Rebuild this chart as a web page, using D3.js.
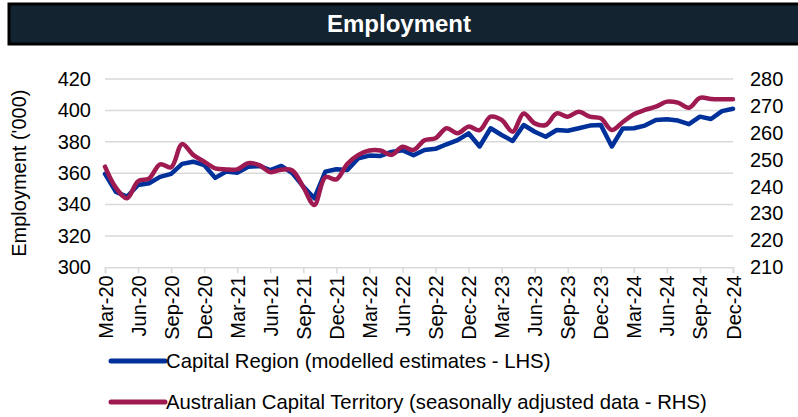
<!DOCTYPE html>
<html>
<head>
<meta charset="utf-8">
<script src="https://cdn.jsdelivr.net/npm/d3@7"></script>
<style>
    body { margin: 0; background: #fff; }
    svg text { font-family: "Liberation Sans", Arial, sans-serif; fill: #000; }
</style>
</head>
<body>
<div id="chart"></div>
<script>
// monthly, Mar-20 .. Dec-24
const months = d3.timeMonth.range(new Date(2020, 2, 1), new Date(2025, 0, 1));

// Capital Region (modelled estimates, '000) - left axis
const capitalRegion = [
    359.5, 348, 345, 352.5, 353.6, 357.6, 359.5, 365.9, 367.3, 365.2,
    357, 361, 360.3, 364, 364.6, 362, 364.6, 360, 351.4, 344,
    361, 362.5, 362, 369.5, 371.2, 371, 373.5, 374.6, 371.4, 374.8,
    375.5, 378.4, 381, 385.4, 377, 388.6, 384.3, 380.5, 390.7, 386.4,
    383.2, 387.5, 387, 388.6, 390.3, 390.7, 377, 388.5, 388.6, 390.3,
    393.9, 394.3, 393.5, 391.2, 396, 394.5, 399.5, 401
];

// ACT (seasonally adjusted, '000) - right axis
const actEmployment = [
    247.4, 239.5, 235.7, 242, 243, 248.3, 247.2, 255.8, 251.8, 249.3,
    246.8, 246.4, 246.4, 248.7, 248, 245.4, 246.3, 246, 239.8, 233.2,
    243.5, 242.7, 248.5, 251.8, 253.4, 253.4, 251.8, 254.8, 253.6, 257.2,
    258, 261.7, 259.8, 262.3, 261, 266, 264.8, 260.4, 267.2, 263.5,
    262.9, 267.2, 266, 267.8, 266, 265.4, 261, 264, 266.9, 268.5,
    269.7, 271.6, 271.2, 269.3, 273, 272.6, 272.5, 272.5
];

const leftTicks = [300, 320, 340, 360, 380, 400, 420];
const rightTicks = [210, 220, 230, 240, 250, 260, 270, 280];
const legendLabels = [
    'Capital Region (modelled estimates - LHS)',
    'Australian Capital Territory (seasonally adjusted data - RHS)'
];

const blue = '#00309a';
const maroon = '#9e1a50';
const grid = '#d9d9d9';

const width = 798, height = 417;
const plot = { left: 105, right: 733, top: 79, bottom: 267.3 };

const svg = d3.select('#chart').append('svg')
    .attr('width', width)
    .attr('height', height);

// title bar
svg.append('rect')
    .attr('x', 9).attr('y', 4)
    .attr('width', 800).attr('height', 40)
    .attr('fill', '#132330')
    .attr('stroke', '#000')
    .attr('stroke-width', 3);

svg.append('text')
    .attr('x', 399).attr('y', 32)
    .attr('text-anchor', 'middle')
    .style('font-size', '24px')
    .style('font-weight', 'bold')
    .style('fill', '#fff')
    .text('Employment');

// scales
const x = d3.scalePoint().domain(d3.range(months.length)).range([plot.left, plot.right]);
const yL = d3.scaleLinear().domain([300, 420]).range([plot.bottom, plot.top]);
const yR = d3.scaleLinear().domain([210, 280]).range([plot.bottom, plot.top]);

// gridlines
svg.append('g').selectAll('line')
    .data(leftTicks.slice(1))
    .join('line')
    .attr('x1', plot.left).attr('x2', plot.right)
    .attr('y1', (d) => yL(d)).attr('y2', (d) => yL(d))
    .attr('stroke', grid)
    .attr('stroke-width', 1.5);

// x axis, ticks every quarter
const fmt = d3.timeFormat('%b-%y');
const quarterIdx = d3.range(0, months.length, 3);

const xAxis = d3.axisBottom(x)
    .tickValues(quarterIdx)
    .tickSize(6)
    .tickPadding(7)
    .tickFormat((i) => fmt(months[i]));

const gx = svg.append('g')
    .attr('transform', `translate(0,${plot.bottom})`)
    .call(xAxis);

gx.select('.domain').attr('stroke', grid).attr('stroke-width', 1.5);
gx.selectAll('.tick line').attr('stroke', grid).attr('stroke-width', 1.5);
gx.selectAll('.tick text')
    .style('font-size', '20px')
    .attr('text-anchor', 'end')
    .attr('transform', 'rotate(-90)')
    .attr('x', -8)
    .attr('y', 0)
    .attr('dy', '0.35em');

// left axis
const gyL = svg.append('g')
    .attr('transform', `translate(${plot.left},0)`)
    .call(d3.axisLeft(yL).tickValues(leftTicks).tickSize(0).tickPadding(14));
gyL.select('.domain').remove();
gyL.selectAll('.tick text').style('font-size', '20px');

// right axis
const gyR = svg.append('g')
    .attr('transform', `translate(${plot.right},0)`)
    .call(d3.axisRight(yR).tickValues(rightTicks).tickSize(0).tickPadding(17));
gyR.select('.domain').remove();
gyR.selectAll('.tick text').style('font-size', '20px');

svg.append('text')
    .attr('transform', `translate(26,${(plot.top + plot.bottom) / 2}) rotate(-90)`)
    .attr('text-anchor', 'middle')
    .style('font-size', '20px')
    .text("Employment ('000)");

// lines
const lineL = d3.line()
    .x((d, i) => x(i))
    .y((d) => yL(d));

const lineR = d3.line()
    .curve(d3.curveCatmullRom)
    .x((d, i) => x(i))
    .y((d) => yR(d));

svg.append('path')
    .datum(capitalRegion)
    .attr('d', lineL)
    .attr('fill', 'none')
    .attr('stroke', blue)
    .attr('stroke-width', 4.5)
    .attr('stroke-linejoin', 'round')
    .attr('stroke-linecap', 'round');

svg.append('path')
    .datum(actEmployment)
    .attr('d', lineR)
    .attr('fill', 'none')
    .attr('stroke', maroon)
    .attr('stroke-width', 4.5)
    .attr('stroke-linejoin', 'round')
    .attr('stroke-linecap', 'round');

// legend
const legend = svg.append('g')
    .selectAll('g')
    .data(legendLabels)
    .join('g')
    .attr('transform', (d, i) => `translate(111,${361 + i * 41})`);

legend.append('line')
    .attr('x1', 0).attr('x2', 54)
    .attr('stroke', (d, i) => (i === 0 ? blue : maroon))
    .attr('stroke-width', 5)
    .attr('stroke-linecap', 'round');

legend.append('text')
    .attr('x', 55)
    .attr('dy', '0.35em')
    .style('font-size', '20.3px')
    .text((d) => d);
</script>
</body>
</html>
